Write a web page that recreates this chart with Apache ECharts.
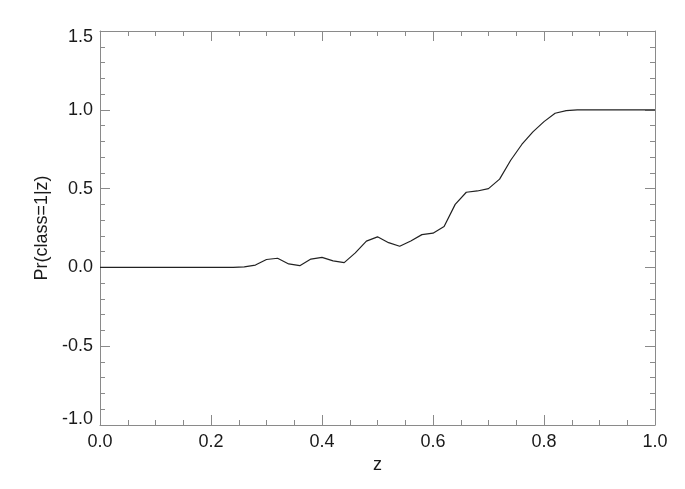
<!DOCTYPE html>
<html>
<head>
<meta charset="utf-8">
<script src="https://cdn.jsdelivr.net/npm/echarts@6/dist/echarts.min.js"></script>
<style>
  html, body { margin: 0; padding: 0; background: #fff; }
  #chart { width: 685px; height: 489px; }
</style>
</head>
<body>
<div id="chart"></div>
<script>
// z grid (step 0.02) and read-off probabilities
const zValues = [0.00, 0.02, 0.04, 0.06, 0.08, 0.10, 0.12, 0.14, 0.16, 0.18,
  0.20, 0.22, 0.24, 0.26, 0.28, 0.30, 0.32, 0.34, 0.36, 0.38,
  0.40, 0.42, 0.44, 0.46, 0.48, 0.50, 0.52, 0.54, 0.56, 0.58,
  0.60, 0.62, 0.64, 0.66, 0.68, 0.70, 0.72, 0.74, 0.76, 0.78,
  0.80, 0.82, 0.84, 0.86, 0.88, 0.90, 0.92, 0.94, 0.96, 0.98, 1.00]
const prValues = [0, 0, 0, 0, 0, 0, 0, 0, 0, 0,
  0, 0, 0, 0.003, 0.015, 0.05, 0.058, 0.022, 0.011, 0.053,
  0.064, 0.041, 0.03, 0.092, 0.167, 0.194, 0.157, 0.134, 0.168, 0.208,
  0.217, 0.26, 0.40, 0.477, 0.485, 0.50, 0.56, 0.68, 0.78, 0.86,
  0.925, 0.978, 0.995, 1.0, 1.0, 1.0, 1.0, 1.0, 1.0, 1.0, 1.0]
const xTicks = [0, 0.2, 0.4, 0.6, 0.8, 1.0]
const yTicks = [-1.0, -0.5, 0.0, 0.5, 1.0, 1.5]

const font = 'Liberation Sans, Arial, sans-serif'
const axisColor = '#8a8a8a'
const textColor = '#1a1a1a'

function baseAxis(extra) {
  return Object.assign({
    type: 'value',
    axisLine: { show: true, onZero: false, lineStyle: { color: axisColor, width: 1 } },
    axisTick: { show: true, inside: true, length: 10, lineStyle: { color: axisColor } },
    splitLine: { show: false },
    axisLabel: { show: false }
  }, extra)
}

const xLabel = {
  show: true, color: textColor, fontSize: 18, fontFamily: font, margin: 8,
  formatter: v => v.toFixed(1)
}
// end labels on the y axis sit a little inside the frame, like the original
const yLabel = {
  show: true, color: textColor, fontSize: 18, fontFamily: font, margin: 7,
  formatter: v => {
    if (v === yTicks[yTicks.length - 1]) return '{top|' + v.toFixed(1) + '}'
    if (v === yTicks[0]) return '{bot|' + v.toFixed(1) + '}'
    return v.toFixed(1)
  },
  rich: {
    top: { fontSize: 18, fontFamily: font, color: textColor, padding: [12, 0, 0, 0] },
    bot: { fontSize: 18, fontFamily: font, color: textColor, padding: [0, 0, 12, 0] }
  }
}

const xMinor = { show: true, splitNumber: 4, length: 5, lineStyle: { color: axisColor } }
const yMinor = { show: true, splitNumber: 5, length: 5, lineStyle: { color: axisColor } }

const chart = echarts.init(document.getElementById('chart'))
chart.setOption({
  animation: false,
  backgroundColor: '#fff',
  grid: { left: 100, right: 30, top: 31, bottom: 64, containLabel: false },
  xAxis: [
    baseAxis({
      position: 'bottom', min: xTicks[0], max: xTicks[xTicks.length - 1], interval: 0.2,
      minorTick: xMinor,
      axisLabel: xLabel,
      name: 'z', nameLocation: 'middle', nameGap: 30,
      nameTextStyle: { color: textColor, fontSize: 18, fontFamily: font }
    }),
    baseAxis({
      position: 'top', min: xTicks[0], max: xTicks[xTicks.length - 1], interval: 0.2,
      minorTick: xMinor
    })
  ],
  yAxis: [
    baseAxis({
      position: 'left', min: yTicks[0], max: yTicks[yTicks.length - 1], interval: 0.5,
      minorTick: yMinor,
      axisLabel: yLabel,
      name: 'Pr(class=1|z)', nameLocation: 'middle', nameGap: 48,
      nameTextStyle: { color: textColor, fontSize: 18, fontFamily: font }
    }),
    baseAxis({
      position: 'right', min: yTicks[0], max: yTicks[yTicks.length - 1], interval: 0.5,
      minorTick: yMinor
    })
  ],
  series: [{
    type: 'line',
    data: zValues.map((z, i) => [z, prValues[i]]),
    showSymbol: false,
    lineStyle: { color: '#222', width: 1.2 },
    xAxisIndex: 0,
    yAxisIndex: 0
  }]
})
</script>
</body>
</html>
